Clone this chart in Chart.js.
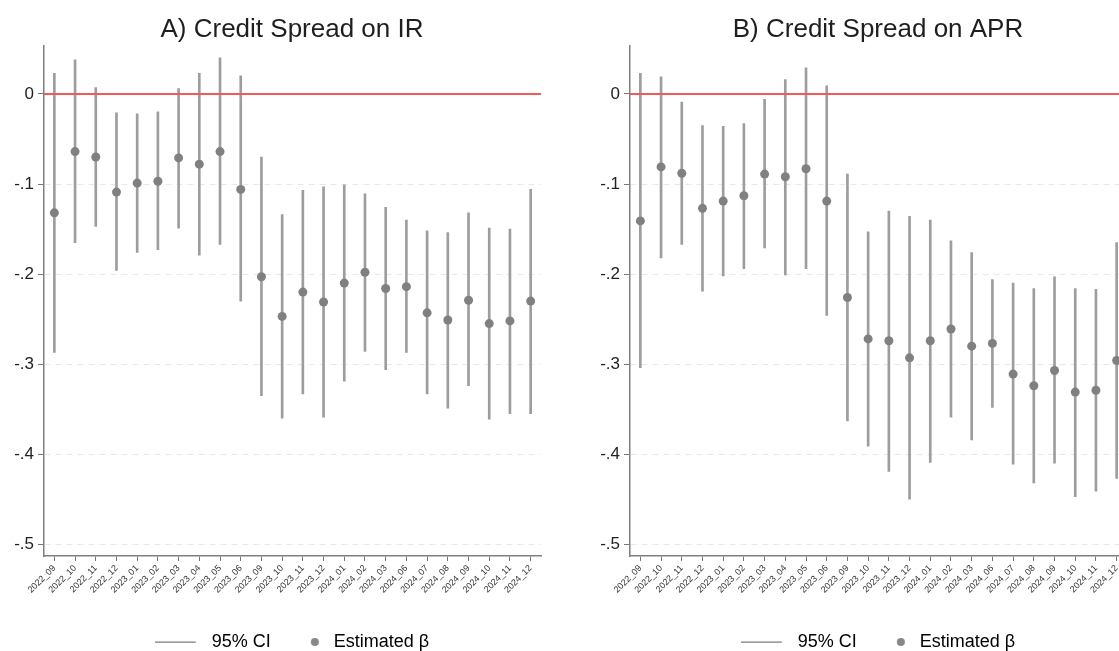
<!DOCTYPE html>
<html>
<head>
<meta charset="utf-8">
<script src="https://cdn.jsdelivr.net/npm/chart.js@4.4.1/dist/chart.umd.min.js"></script>
<style>
  html, body { margin: 0; padding: 0; background: #fff; overflow: hidden; width: 1119px; height: 651px; }
  canvas { position: absolute; top: 0; }
  #grafIR { left: 0; }
  #grafAPR { left: 586px; }
</style>
</head>
<body>
<canvas id="grafIR" width="584" height="661"></canvas>
<canvas id="grafAPR" width="584" height="661"></canvas>
<script>
// categorias (meses del evento)
const meses = ['2022_09', '2022_10', '2022_11', '2022_12', '2023_01', '2023_02', '2023_03', '2023_04',
  '2023_05', '2023_06', '2023_09', '2023_10', '2023_11', '2023_12', '2024_01', '2024_02',
  '2024_03', '2024_06', '2024_07', '2024_08', '2024_09', '2024_10', '2024_11', '2024_12'];
const yTicks = [0, -0.1, -0.2, -0.3, -0.4, -0.5];

// A) IR
const betaIR = [-0.132, -0.064, -0.070, -0.109, -0.099, -0.097, -0.071, -0.078, -0.064, -0.106, -0.203, -0.247,
  -0.220, -0.231, -0.210, -0.198, -0.216, -0.214, -0.243, -0.251, -0.229, -0.255, -0.252, -0.230];
const loIR = [-0.287, -0.165, -0.147, -0.196, -0.176, -0.173, -0.149, -0.179, -0.167, -0.230, -0.335, -0.360,
  -0.333, -0.359, -0.319, -0.286, -0.306, -0.287, -0.333, -0.349, -0.324, -0.361, -0.355, -0.355];
const hiIR = [0.023, 0.038, 0.007, -0.021, -0.022, -0.020, 0.006, 0.023, 0.040, 0.020, -0.070, -0.134,
  -0.107, -0.103, -0.101, -0.111, -0.126, -0.140, -0.152, -0.154, -0.132, -0.149, -0.150, -0.106];

// B) APR
const betaAPR = [-0.141, -0.081, -0.088, -0.127, -0.119, -0.113, -0.089, -0.092, -0.083, -0.119, -0.226, -0.272,
  -0.274, -0.293, -0.274, -0.261, -0.280, -0.277, -0.311, -0.324, -0.307, -0.331, -0.329, -0.296];
const loAPR = [-0.304, -0.182, -0.167, -0.219, -0.202, -0.194, -0.171, -0.201, -0.194, -0.246, -0.363, -0.391,
  -0.419, -0.450, -0.409, -0.359, -0.384, -0.348, -0.411, -0.432, -0.410, -0.447, -0.441, -0.427];
const hiAPR = [0.023, 0.019, -0.009, -0.035, -0.036, -0.033, -0.006, 0.016, 0.029, 0.009, -0.089, -0.153,
  -0.130, -0.136, -0.140, -0.163, -0.176, -0.206, -0.210, -0.216, -0.203, -0.216, -0.217, -0.165];

Chart.defaults.font.family = '"Liberation Sans", Arial, sans-serif';
Chart.defaults.color = '#333';

// marcadores de la leyenda (linea del IC y punto)
const marcaLinea = () => {
  const c = document.createElement('canvas');
  c.width = 48; c.height = 4;
  const g = c.getContext('2d');
  g.fillStyle = '#777';
  g.fillRect(0, 1.5, 41, 1.2);
  return c;
};
const marcaPunto = () => {
  const c = document.createElement('canvas');
  c.width = 48; c.height = 10;
  const g = c.getContext('2d');
  g.fillStyle = '#888';
  g.beginPath();
  g.arc(38, 5, 4, 0, Math.PI * 2);
  g.fill();
  return c;
};

const etiquetaY = (v) => v === 0 ? '0' : '-' + Math.abs(v).toFixed(1).replace(/^0/, '');

const hacerGrafico = (id, titulo, beta, lo, hi) => {
  new Chart(document.getElementById(id), {
    type: 'bar',
    data: {
      datasets: [
        {
          type: 'bar',
          label: '95% CI',
          data: meses.map((m, i) => ({ x: i, y: [lo[i], hi[i]] })),
          backgroundColor: '#9d9d9d',
          borderWidth: 0,
          barThickness: 2,
          order: 3
        },
        {
          type: 'scatter',
          label: 'Estimated β',
          data: meses.map((m, i) => ({ x: i, y: beta[i] })),
          pointRadius: 4.5,
          pointBackgroundColor: '#808080',
          pointBorderWidth: 0,
          order: 1
        },
        {
          type: 'line',
          label: 'cero',
          data: [{ x: -0.5, y: 0 }, { x: 23.5, y: 0 }],
          borderColor: '#f25a5a',
          borderWidth: 2,
          pointRadius: 0,
          order: 2
        }
      ]
    },
    options: {
      responsive: false,
      animation: false,
      devicePixelRatio: 1,
      layout: { padding: 0 },
      scales: {
        x: {
          type: 'linear',
          min: -0.5,
          max: 23.5,
          offset: false,
          afterBuildTicks: (s) => { s.ticks = meses.map((m, i) => ({ value: i })); },
          afterFit: (s) => { s.height = 71; },
          ticks: {
            autoSkip: false,
            minRotation: 45,
            maxRotation: 45,
            padding: 2,
            font: { size: 9 },
            color: '#333',
            callback: (v) => meses[v]
          },
          grid: { offset: false, drawOnChartArea: false, drawTicks: true, tickLength: 5, tickColor: '#777' },
          border: { color: '#7f7f7f', width: 1.5 }
        },
        y: {
          type: 'linear',
          position: 'left',
          min: -0.513,
          max: 0.053,
          afterBuildTicks: (s) => { s.ticks = yTicks.map(v => ({ value: v })); },
          afterFit: (s) => { s.width = 44; },
          ticks: {
            padding: 4,
            font: { size: 17 },
            color: '#222',
            callback: etiquetaY
          },
          grid: {
            color: (c) => (c.tick && c.tick.value === 0) ? 'rgba(0,0,0,0)' : '#e8e8e8',
            lineWidth: 1,
            drawTicks: true,
            tickLength: 6,
            tickColor: '#777'
          },
          border: { color: '#7f7f7f', width: 1.5, dash: [6, 5] }
        },
        // eje vacio a la derecha, solo para dejar el margen y centrar titulo y leyenda
        yDer: {
          type: 'linear',
          position: 'right',
          afterFit: (s) => { s.width = 43; },
          ticks: { display: false },
          grid: { display: false },
          border: { display: false }
        }
      },
      plugins: {
        tooltip: { enabled: false },
        title: {
          display: true,
          text: titulo,
          color: '#1e1e1e',
          font: { size: 26, weight: 'normal' },
          padding: { top: 14, bottom: 1 }
        },
        legend: {
          position: 'bottom',
          labels: {
            usePointStyle: true,
            pointStyleWidth: 48,
            font: { size: 18 },
            color: '#333',
            padding: 6,
            generateLabels: () => [
              { text: '95% CI', pointStyle: marcaLinea(), fillStyle: '#777', strokeStyle: '#777', lineWidth: 0, hidden: false, datasetIndex: 0 },
              { text: 'Estimated β', pointStyle: marcaPunto(), fillStyle: '#888', strokeStyle: '#888', lineWidth: 0, hidden: false, datasetIndex: 1 }
            ]
          }
        }
      }
    }
  });
};

hacerGrafico('grafIR', 'A) Credit Spread on IR', betaIR, loIR, hiIR);
hacerGrafico('grafAPR', 'B) Credit Spread on APR', betaAPR, loAPR, hiAPR);
</script>
</body>
</html>
